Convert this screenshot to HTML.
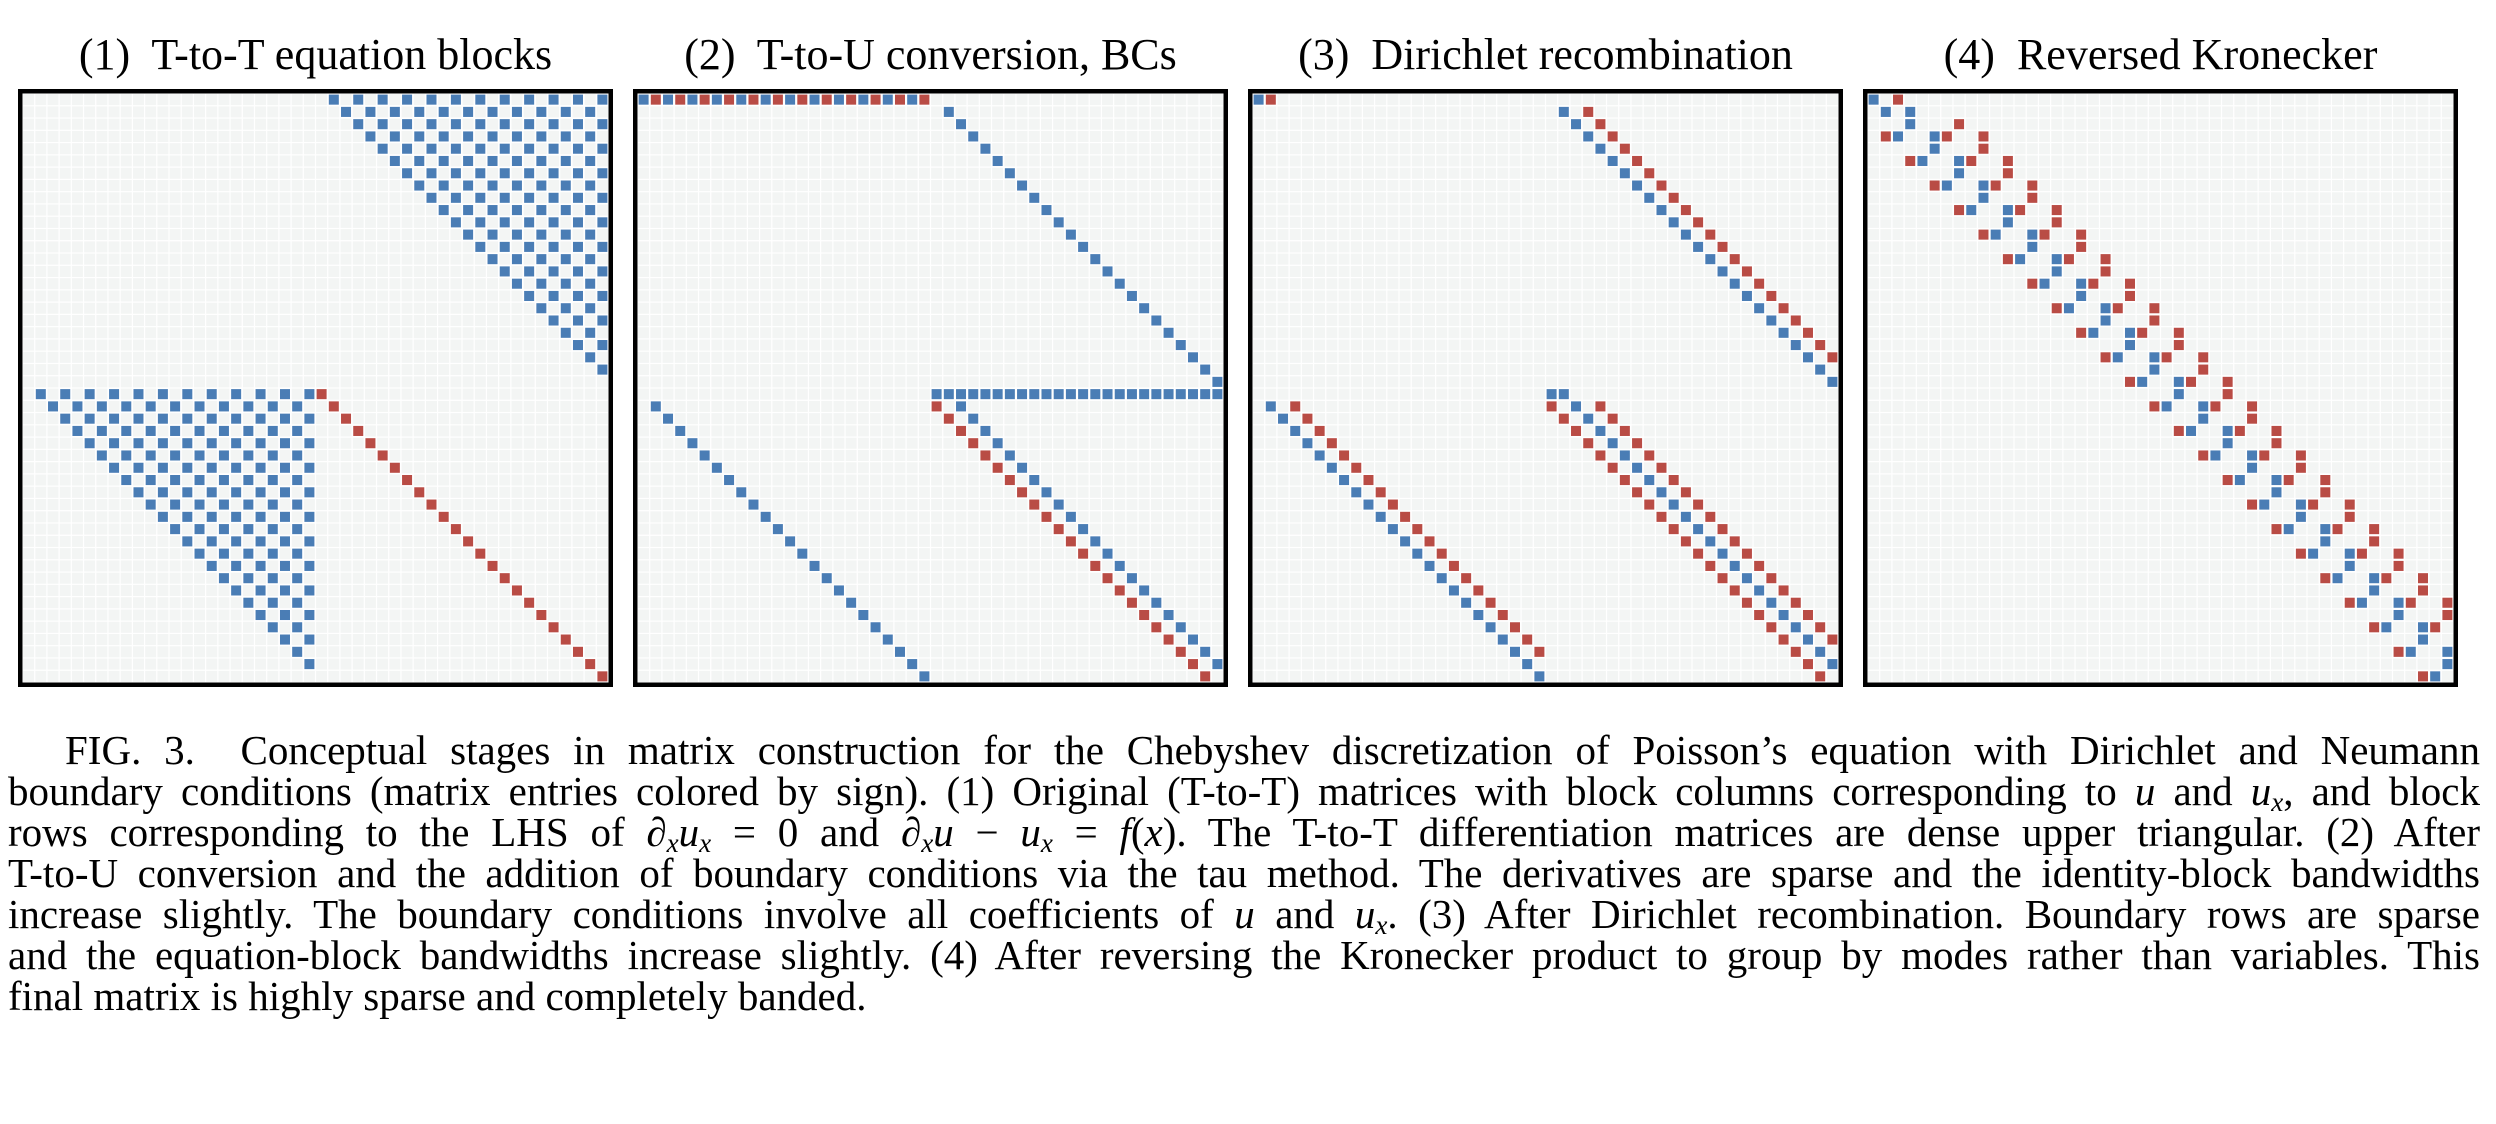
<!DOCTYPE html>
<html><head><meta charset="utf-8">
<style>
html,body{margin:0;padding:0;background:#fff;}
body{width:2496px;height:1124px;position:relative;overflow:hidden;font-family:"Liberation Serif","Times New Roman",serif;color:#000;}
.title{position:absolute;top:30px;width:595px;text-align:center;font-size:44px;line-height:50px;white-space:pre;}
.panel{position:absolute;top:89px;width:595px;height:598px;}
#caption{position:absolute;left:8px;top:730px;width:2472px;font-size:41px;line-height:41px;}
.ln{display:block;height:41px;text-align:justify;text-align-last:justify;white-space:nowrap;}
.ln.last{text-align-last:left;}
i{font-style:italic;}
sub{font-size:27px;vertical-align:-6px;line-height:0;}
</style></head><body>
<div class="title" style="left:18px">(1)  T-to-T equation blocks</div>
<div class="title" style="left:633px">(2)  T-to-U conversion, BCs</div>
<div class="title" style="left:1248px">(3)  Dirichlet recombination</div>
<div class="title" style="left:1863px">(4)  Reversed Kronecker</div>
<svg class="panel" id="p1" style="left:18px"></svg>
<svg class="panel" id="p2" style="left:633px"></svg>
<svg class="panel" id="p3" style="left:1248px"></svg>
<svg class="panel" id="p4" style="left:1863px"></svg>
<div id="caption">
<span class="ln" style="padding-left:57px">FIG. 3.&nbsp; Conceptual stages in matrix construction for the Chebyshev discretization of Poisson’s equation with Dirichlet and Neumann</span>
<span class="ln">boundary conditions (matrix entries colored by sign). (1) Original (T-to-T) matrices with block columns corresponding to <i>u</i> and <i>u<sub>x</sub></i>, and block</span>
<span class="ln">rows corresponding to the LHS of ∂<sub><i>x</i></sub><i>u<sub>x</sub></i> = 0 and ∂<sub><i>x</i></sub><i>u</i> − <i>u<sub>x</sub></i> = <i>f</i>(<i>x</i>). The T-to-T differentiation matrices are dense upper triangular. (2) After</span>
<span class="ln">T-to-U conversion and the addition of boundary conditions via the tau method. The derivatives are sparse and the identity-block bandwidths</span>
<span class="ln">increase slightly. The boundary conditions involve all coefficients of <i>u</i> and <i>u<sub>x</sub></i>. (3) After Dirichlet recombination. Boundary rows are sparse</span>
<span class="ln">and the equation-block bandwidths increase slightly. (4) After reversing the Kronecker product to group by modes rather than variables. This</span>
<span class="ln last">final matrix is highly sparse and completely banded.</span>
</div>
<script>
// matrix data: block size and band definitions
const blockSize = [24];
const signColors = ["#4a7db5", "#b94c45"]; // positive, negative
// panel 1: dense T-to-T derivative in UR and LL blocks, -I in LR
const p1Blocks = [[0, 24], [24, 0]];
const p1NegDiag = [[24, 24]];
// panel 2: BC rows, then bands [startLocalRow, rowBlock, colBlock, diagOffset, negative]
const p2BcRows = [[0, 0, "alt"], [24, 24, "pos"]];
const p2Bands = [[1, 0, 24, 0, 0], [1, 24, 0, 0, 0], [1, 24, 24, -1, 1], [1, 24, 24, 1, 0]];
// panel 3
const p3Single = [[0, 0, 0], [0, 1, 1], [24, 24, 0], [24, 25, 0]];
const p3Bands = [[1, 0, 24, 0, 0], [1, 0, 24, 2, 1], [1, 24, 0, 0, 0], [1, 24, 0, 2, 1], [1, 24, 24, -1, 1], [1, 24, 24, 1, 0], [1, 24, 24, 3, 1]];

const N = blockSize[0], M = 2 * N;
function empty() { return Array.from({length: M}, () => new Array(M).fill(0)); }
function put(A, r, c, s) { if (r >= 0 && r < M && c >= 0 && c < M) A[r][c] = s; }

const A1 = empty();
p1Blocks.forEach(([ro, co]) => { for (let i = 0; i < N; i++) for (let j = i + 1; j < N; j += 2) put(A1, ro + i, co + j, 1); });
p1NegDiag.forEach(([ro, co]) => { for (let i = 0; i < N; i++) put(A1, ro + i, co + i, -1); });

const A2 = empty();
p2BcRows.forEach(([r, co, kind]) => { for (let j = 0; j < N; j++) put(A2, r, co + j, kind === "alt" && j % 2 ? -1 : 1); });
p2Bands.forEach(([s, ro, co, d, neg]) => {
  for (let i = s; i < N; i++) { const c = i + d; if (c >= 0 && c < N) put(A2, ro + i, co + c, neg ? -1 : 1); }
});

const A3 = empty();
p3Single.forEach(([r, c, neg]) => put(A3, r, c, neg ? -1 : 1));
p3Bands.forEach(([s, ro, co, d, neg]) => {
  for (let i = s; i < N; i++) { const c = i + d; if (c >= 0 && c < N) put(A3, ro + i, co + c, neg ? -1 : 1); }
});

const perm = k => k < N ? 2 * k : 2 * (k - N) + 1;
const A4 = empty();
for (let r = 0; r < M; r++) for (let c = 0; c < M; c++) if (A3[r][c]) A4[perm(r)][perm(c)] = A3[r][c];

const NS = "http://www.w3.org/2000/svg";
function draw(id, A) {
  const svg = document.getElementById(id);
  const W = 595, H = 598, b = 4.5;
  const x0 = b, y0 = b, cw = (W - 2 * b) / M, ch = (H - 2 * b) / M;
  const bg = document.createElementNS(NS, "rect");
  
  
  bg.setAttribute("x", x0); bg.setAttribute("y", y0); bg.setAttribute("width", W - 2 * b); bg.setAttribute("height", H - 2 * b); bg.setAttribute("fill", "#ffffff");
  svg.appendChild(bg);
  for (let r = 0; r < M; r++) for (let c = 0; c < M; c++) {
    const v = A[r][c];
    const el = document.createElementNS(NS, "rect");
    
    
    const pad = v ? 1.1 : 0.6;
    el.setAttribute("x", (x0 + c * cw + pad).toFixed(2));
    el.setAttribute("y", (y0 + r * ch + pad).toFixed(2));
    el.setAttribute("width", (cw - 2 * pad).toFixed(2));
    el.setAttribute("height", (ch - 2 * pad).toFixed(2));
    el.setAttribute("fill", v > 0 ? signColors[0] : v < 0 ? signColors[1] : "#f3f5f4");
    svg.appendChild(el);
  }
  const fr = document.createElementNS(NS, "rect");
  
  
  fr.setAttribute("x", b / 2); fr.setAttribute("y", b / 2); fr.setAttribute("width", W - b); fr.setAttribute("height", H - b);
  fr.setAttribute("fill", "none"); fr.setAttribute("stroke", "#000"); fr.setAttribute("stroke-width", b);
  svg.appendChild(fr);
}
draw("p1", A1); draw("p2", A2); draw("p3", A3); draw("p4", A4);
</script>
</body></html>
